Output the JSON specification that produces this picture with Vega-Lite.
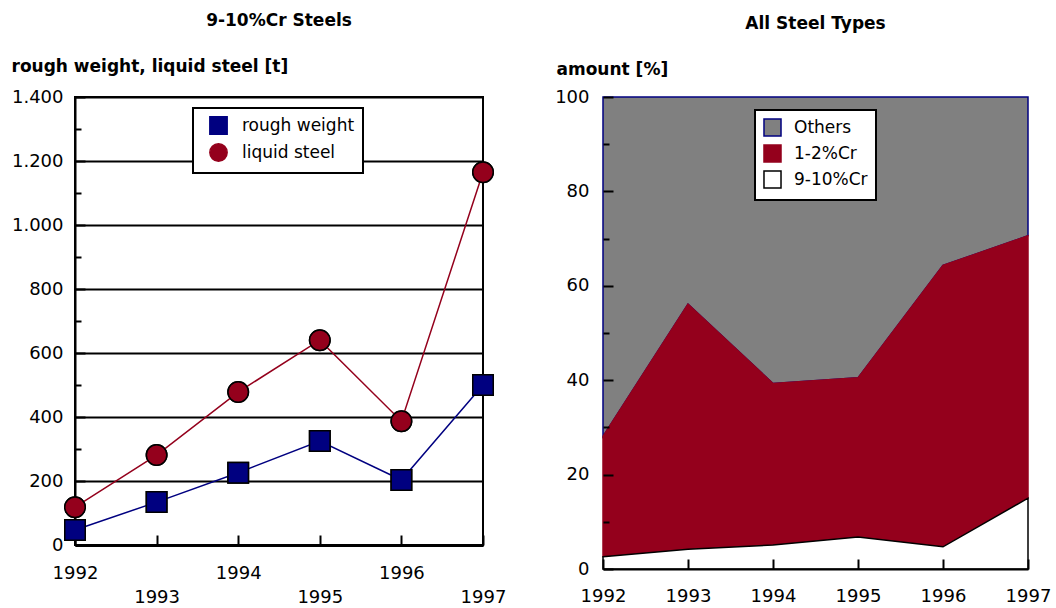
{
  "$schema": "https://vega.github.io/schema/vega-lite/v6.json",
  "background": "white",
  "padding": {"left": 10, "top": 11, "right": 0, "bottom": 0},
  "config": {
    "font": "DejaVu Sans",
    "title": {"fontSize": 17, "fontWeight": "bold", "color": "black", "anchor": "middle"},
    "axis": {"labelFontSize": 18, "labelColor": "black", "titleFontSize": 17, "titleFontWeight": "bold", "titleColor": "black", "domainColor": "black", "tickColor": "black", "labelFlush": false, "labelOverlap": false, "labelBound": false},
    "legend": {"labelFontSize": 17, "labelColor": "black", "fillColor": "white", "strokeColor": "black", "strokeWidth": 2}
  },
  "datasets": {
    "weights": [
      {"year": 1992, "series": "rough weight", "tonnes": 47},
      {"year": 1993, "series": "rough weight", "tonnes": 134},
      {"year": 1994, "series": "rough weight", "tonnes": 226},
      {"year": 1995, "series": "rough weight", "tonnes": 325},
      {"year": 1996, "series": "rough weight", "tonnes": 203},
      {"year": 1997, "series": "rough weight", "tonnes": 500},
      {"year": 1992, "series": "liquid steel", "tonnes": 118},
      {"year": 1993, "series": "liquid steel", "tonnes": 281},
      {"year": 1994, "series": "liquid steel", "tonnes": 478},
      {"year": 1995, "series": "liquid steel", "tonnes": 640},
      {"year": 1996, "series": "liquid steel", "tonnes": 387},
      {"year": 1997, "series": "liquid steel", "tonnes": 1165}
    ],
    "shares": [
      {"year": 1992, "type": "Others", "share": 71.9},
      {"year": 1993, "type": "Others", "share": 43.9},
      {"year": 1994, "type": "Others", "share": 60.7},
      {"year": 1995, "type": "Others", "share": 59.5},
      {"year": 1996, "type": "Others", "share": 35.7},
      {"year": 1997, "type": "Others", "share": 29.4},
      {"year": 1992, "type": "1-2%Cr", "share": 25.5},
      {"year": 1993, "type": "1-2%Cr", "share": 51.9},
      {"year": 1994, "type": "1-2%Cr", "share": 34.2},
      {"year": 1995, "type": "1-2%Cr", "share": 33.7},
      {"year": 1996, "type": "1-2%Cr", "share": 59.6},
      {"year": 1997, "type": "1-2%Cr", "share": 55.6},
      {"year": 1992, "type": "9-10%Cr", "share": 2.6},
      {"year": 1993, "type": "9-10%Cr", "share": 4.2},
      {"year": 1994, "type": "9-10%Cr", "share": 5.1},
      {"year": 1995, "type": "9-10%Cr", "share": 6.8},
      {"year": 1996, "type": "9-10%Cr", "share": 4.7},
      {"year": 1997, "type": "9-10%Cr", "share": 15.0}
    ]
  },
  "spacing": 47,
  "resolve": {
    "scale": {"x": "independent", "y": "independent", "color": "independent", "shape": "independent", "stroke": "independent"},
    "legend": {"color": "independent", "shape": "independent", "stroke": "independent"}
  },
  "hconcat": [
    {
      "width": 408,
      "height": 448,
      "view": {"stroke": "black", "strokeWidth": 2},
      "title": {"text": "9-10%Cr Steels", "offset": 27},
      "data": {"name": "weights"},
      "encoding": {
        "x": {
          "field": "year", "type": "quantitative",
          "scale": {"domain": [1992, 1997], "nice": false, "zero": false},
          "axis": {
            "title": null, "values": [1992, 1993, 1994, 1995, 1996, 1997], "format": "d",
            "grid": false, "domainWidth": 3, "tickSize": -10, "tickWidth": 2,
            "labelPadding": {"condition": {"test": "datum.value % 2 == 1", "value": 53}, "value": 29}
          }
        },
        "y": {
          "field": "tonnes", "type": "quantitative",
          "scale": {"domain": [0, 1400], "nice": false},
          "axis": {
            "title": "rough weight, liquid steel [t]", "titleAngle": 0, "titleAlign": "left", "titleBaseline": "middle",
            "titleX": -64, "titleY": -31,
            "values": [0, 100, 200, 300, 400, 500, 600, 700, 800, 900, 1000, 1100, 1200, 1300, 1400],
            "labelExpr": "datum.value % 200 == 0 ? replace(format(datum.value, ','), ',', '.') : ''",
            "grid": true, "gridColor": "black", "gridWidth": 2,
            "gridOpacity": {"condition": {"test": "datum.value % 200 == 0", "value": 1}, "value": 0},
            "domainWidth": 2,
            "tickSize": {"condition": {"test": "datum.value % 200 == 0", "value": -10}, "value": -6},
            "tickWidth": 2, "labelPadding": 22
          }
        },
        "color": {
          "field": "series", "type": "nominal",
          "scale": {"domain": ["rough weight", "liquid steel"], "range": ["#000080", "#94001C"]},
          "legend": {
            "title": null, "orient": "none", "legendX": 118, "legendY": 11,
            "padding": 8, "symbolSize": 300, "symbolStrokeColor": "black", "symbolStrokeWidth": 1.5,
            "rowPadding": 2, "labelOffset": 14, "symbolOffset": 8
          }
        }
      },
      "layer": [
        {
          "mark": {"type": "point", "filled": true, "stroke": "black", "strokeWidth": 1.5, "opacity": 1, "size": 420},
          "encoding": {
            "shape": {"field": "series", "type": "nominal", "scale": {"domain": ["rough weight", "liquid steel"], "range": ["square", "circle"]}}
          }
        },
        {"mark": {"type": "line", "strokeWidth": 1.5}},
        {
          "mark": {"type": "point", "filled": true, "stroke": "black", "strokeWidth": 1.5, "opacity": 1, "size": 420},
          "encoding": {
            "shape": {"field": "series", "type": "nominal", "scale": {"domain": ["rough weight", "liquid steel"], "range": ["square", "circle"]}}
          }
        }
      ]
    },
    {
      "width": 425,
      "height": 472,
      "view": {"stroke": null},
      "title": {"text": "All Steel Types", "offset": 27},
      "data": {"name": "shares"},
      "transform": [{"calculate": "indexof(['9-10%Cr', '1-2%Cr', 'Others'], datum.type)", "as": "stackOrder"}],
      "mark": {"type": "area", "opacity": 1, "strokeWidth": 1.5},
      "encoding": {
        "x": {
          "field": "year", "type": "quantitative",
          "scale": {"domain": [1992, 1997], "nice": false, "zero": false},
          "axis": {
            "title": null, "values": [1992, 1993, 1994, 1995, 1996, 1997], "format": "d",
            "grid": false, "domainWidth": 2, "tickSize": -10, "tickWidth": 2, "labelPadding": 28, "zindex": 1
          }
        },
        "y": {
          "field": "share", "type": "quantitative", "stack": "zero",
          "scale": {"domain": [0, 100], "nice": false},
          "axis": {
            "title": "amount [%]", "titleAngle": 0, "titleAlign": "left", "titleBaseline": "middle",
            "titleX": -47, "titleY": -28,
            "values": [0, 10, 20, 30, 40, 50, 60, 70, 80, 90, 100],
            "labelExpr": "datum.value % 20 == 0 ? datum.label : ''",
            "grid": false, "domain": false,
            "tickSize": {"condition": {"test": "datum.value % 20 == 0", "value": -10}, "value": -6},
            "tickWidth": 2, "labelPadding": 24, "zindex": 1
          }
        },
        "color": {
          "field": "type", "type": "nominal",
          "scale": {"domain": ["Others", "1-2%Cr", "9-10%Cr"], "range": ["#808080", "#94001C", "white"]},
          "legend": {
            "title": null, "orient": "none", "legendX": 152, "legendY": 13,
            "padding": 8, "symbolType": "square", "symbolSize": 290, "symbolStrokeWidth": 1.5,
            "rowPadding": 1, "labelOffset": 12, "symbolOffset": 0, "labelFontSize": 17
          }
        },
        "stroke": {
          "field": "type", "type": "nominal",
          "scale": {"domain": ["Others", "1-2%Cr", "9-10%Cr"], "range": ["#000080", "#94001C", "black"]},
          "legend": {
            "title": null, "orient": "none", "legendX": 152, "legendY": 13,
            "padding": 8, "symbolType": "square", "symbolSize": 290, "symbolStrokeWidth": 1.5,
            "rowPadding": 1, "labelOffset": 12, "symbolOffset": 0, "labelFontSize": 17
          }
        },
        "order": {"field": "stackOrder", "type": "quantitative"}
      }
    }
  ]
}
